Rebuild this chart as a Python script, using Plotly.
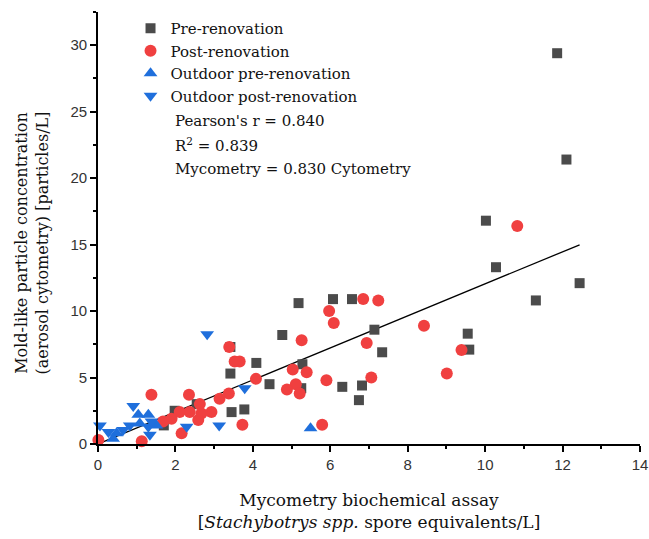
import plotly.graph_objects as go

# ---- data ----
pre_x = [11.86, 12.10, 10.02, 10.28, 12.44, 11.31, 9.55, 9.59, 5.18, 6.07, 6.56, 4.76, 3.42, 3.42,
         4.09, 5.28, 4.43, 3.45, 3.78, 5.25, 6.31, 6.82, 6.74, 7.14, 7.34, 2.55, 1.98, 1.70]
pre_y = [29.4, 21.4, 16.8, 13.3, 12.1, 10.8, 8.3, 7.1, 10.6, 10.9, 10.9, 8.2, 7.3, 5.3,
         6.1, 6.0, 4.5, 2.4, 2.6, 4.2, 4.3, 4.4, 3.3, 8.6, 6.9, 3.0, 2.5, 1.4]

post_x = [10.83, 8.42, 9.39, 9.01, 6.85, 7.24, 5.97, 6.09, 5.26, 6.94, 3.39, 3.53, 3.66, 5.03,
          5.39, 4.08, 5.90, 7.06, 5.11, 4.88, 5.21, 3.38, 3.14, 2.35, 3.73, 5.79, 2.93, 2.63,
          2.67, 2.59, 2.37, 2.11, 2.16, 1.90, 1.68, 1.38, 1.13, 0.01]
post_y = [16.4, 8.9, 7.07, 5.3, 10.9, 10.8, 10.0, 9.1, 7.8, 7.6, 7.3, 6.2, 6.2, 5.6,
          5.4, 4.9, 4.8, 5.0, 4.5, 4.1, 3.8, 3.8, 3.4, 3.7, 1.45, 1.45, 2.4, 3.0,
          2.3, 1.8, 2.4, 2.4, 0.8, 1.9, 1.7, 3.7, 0.2, 0.3]

out_pre_x = [5.49, 1.04, 1.30, 0.48, 0.39, 1.08, 1.51]
out_pre_y = [1.18, 2.2, 2.2, 0.8, 0.4, 1.55, 1.4]

out_post_x = [2.82, 3.13, 3.79, 2.29, 0.05, 0.14, 0.27, 0.91, 0.82, 0.65, 1.30, 1.34, 1.38]
out_post_y = [8.25, 1.4, 4.2, 1.3, 1.4, -0.05, 0.9, 2.85, 1.4, 1.05, 1.3, 0.7, 1.7]

slope_coef = 0.830  # Mycometry = 0.830 Cytometry
stats_text = ["Pearson's r = 0.840", "R<sup>2</sup> = 0.839", "Mycometry = 0.830 Cytometry"]

x_ticks = [0, 2, 4, 6, 8, 10, 12, 14]
y_ticks = [0, 5, 10, 15, 20, 25, 30]

x_title = "Mycometry biochemical assay<br>[<i>Stachybotrys spp.</i> spore equivalents/L]"
y_title = "Mold-like particle concentration<br>(aerosol cytometry) [particles/L]"

serif = "DejaVu Serif"
sans = "Liberation Sans, Arial"

fig = go.Figure()

all_x = pre_x + post_x + out_pre_x + out_post_x
line_x = [0.1, max(all_x)]
line_y = [v / slope_coef for v in line_x]

fig.add_trace(go.Scatter(x=line_x, y=line_y, mode="lines",
                         line=dict(color="black", width=1.3), showlegend=False, hoverinfo="skip"))

fig.add_trace(go.Scatter(x=pre_x, y=pre_y, mode="markers", name="Pre-renovation",
                         marker=dict(symbol="square", size=10, color="#4b4b4b"), cliponaxis=False))
fig.add_trace(go.Scatter(x=post_x, y=post_y, mode="markers", name="Post-renovation",
                         marker=dict(symbol="circle", size=12, color="#f04040"), cliponaxis=False))
fig.add_trace(go.Scatter(x=out_pre_x, y=out_pre_y, mode="markers", name="Outdoor pre-renovation",
                         marker=dict(symbol="triangle-up", size=12, color="#1f6fdc"), cliponaxis=False))
fig.add_trace(go.Scatter(x=out_post_x, y=out_post_y, mode="markers", name="Outdoor post-renovation",
                         marker=dict(symbol="triangle-down", size=12, color="#1f6fdc"), cliponaxis=False))

for i, t in enumerate(stats_text):
    fig.add_annotation(x=0.138, y=0.748 - i * 0.0555, xref="paper", yref="paper",
                       text=t, showarrow=False, xanchor="left", yanchor="middle",
                       font=dict(family=serif, size=15, color="#111111"))

# y-axis title (rotated), centred a little below the middle of the axis as in the reference
fig.add_annotation(x=-0.121, y=0.465, xref="paper", yref="paper", text=y_title,
                   showarrow=False, textangle=-90, xanchor="center", yanchor="middle",
                   font=dict(family=serif, size=16, color="#111111"))

axis_common = dict(showline=True, linecolor="black", linewidth=1.6, showgrid=False, zeroline=False,
                   ticks="outside", ticklen=6, tickwidth=1.5, tickcolor="black", automargin=False,
                   ticklabeloverflow="allow",
                   tickfont=dict(family=sans, size=15, color="#333333"))

fig.update_xaxes(range=[0, 14], tickvals=x_ticks, ticktext=[str(v) for v in x_ticks],
                 minor=dict(ticks="outside", dtick=1, ticklen=3, tickwidth=1.5, tickcolor="black"),
                 title=dict(text=x_title, font=dict(family=serif, size=17, color="#111111"), standoff=22),
                 **axis_common)
fig.update_yaxes(range=[0, 32.5], tickvals=y_ticks, ticktext=[str(v) for v in y_ticks],
                 minor=dict(ticks="outside", dtick=2.5, ticklen=3, tickwidth=1.5, tickcolor="black"),
                 **axis_common)

fig.update_layout(
    width=649, height=539,
    margin=dict(l=98, r=9, t=12, b=95),
    plot_bgcolor="white", paper_bgcolor="white",
    legend=dict(x=0.06, y=1.0, xanchor="left", yanchor="top", bgcolor="rgba(0,0,0,0)",
                font=dict(family=serif, size=15, color="#111111"), tracegroupgap=0, itemwidth=30),
)

fig.write_html("out.html", config={"displayModeBar": False},
               post_script="document.body.style.margin='0';")
